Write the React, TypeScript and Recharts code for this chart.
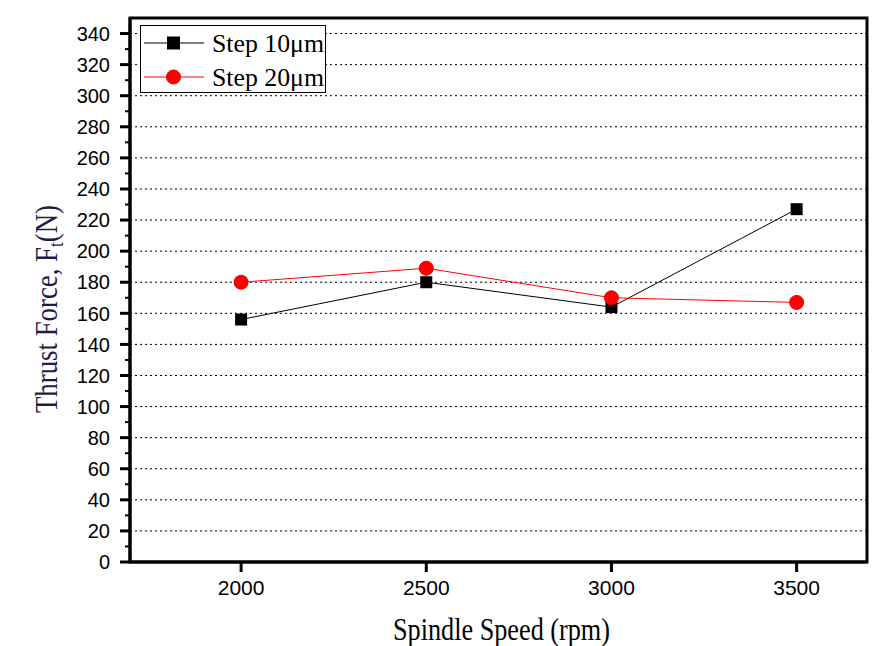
import React from "react";
import { LineChart, Line, XAxis, YAxis, CartesianGrid, Legend, ReferenceArea } from "recharts";

const speeds = [2000, 2500, 3000, 3500];
const step10 = [156, 180, 164, 227];
const step20 = [180, 189, 170, 167];
const xTicks = [2000, 2500, 3000, 3500];
const yTicks = [
  0, 10, 20, 30, 40, 50, 60, 70, 80, 90, 100, 110, 120, 130, 140, 150, 160, 170,
  180, 190, 200, 210, 220, 230, 240, 250, 260, 270, 280, 290, 300, 310, 320, 330, 340,
];
const gridValues = [20, 40, 60, 80, 100, 120, 140, 160, 180, 200, 220, 240, 260, 280, 300, 320, 340];

const RED = "#ff0000";
const BLACK = "#000";
const SANS = "'Liberation Sans', Arial, sans-serif";
const SERIF = "'Liberation Serif', 'Times New Roman', serif";

const data = speeds.map((s, i) => ({ speed: s, step10: step10[i], step20: step20[i] }));

function SquareDot(props: any) {
  const { cx, cy, index } = props;
  if (cx == null || cy == null) return <g key={`s${index}`} />;
  return <rect key={`s${index}`} x={cx - 6} y={cy - 6} width={12} height={12} fill={BLACK} />;
}

function CircleDot(props: any) {
  const { cx, cy, index } = props;
  if (cx == null || cy == null) return <g key={`c${index}`} />;
  return <circle key={`c${index}`} cx={cx} cy={cy} r={7} fill={RED} stroke="#e00000" strokeWidth={1} />;
}

function YTick(props: any) {
  const { x, y, payload } = props;
  const major = payload.value % 20 === 0;
  return (
    <g>
      <line x1={x - (major ? 10 : 5)} x2={x} y1={y} y2={y} stroke={BLACK} strokeWidth={major ? 3 : 2} />
      {major && (
        <text x={x - 20} y={y} dy="0.36em" textAnchor="end" fontFamily={SANS} fontSize={20} fill={BLACK}>
          {payload.value}
        </text>
      )}
    </g>
  );
}

function YTitle(props: any) {
  const { viewBox } = props;
  const cx = viewBox.x + 57;
  const cy = viewBox.y + viewBox.height / 2 + 19;
  return (
    <text
      x={cx}
      y={cy}
      transform={`rotate(-90, ${cx}, ${cy})`}
      textAnchor="middle"
      fontFamily={SERIF}
      fontSize={31}
      fill="#1f1a4a"
      textLength={208}
      lengthAdjust="spacingAndGlyphs"
    >
      Thrust Force, F
      <tspan fontSize={20} dy={6}>t</tspan>
      <tspan dy={-6}>(N)</tspan>
    </text>
  );
}

function XTitle(props: any) {
  const { viewBox } = props;
  const cx = viewBox.x + viewBox.width / 2 + 3;
  return (
    <text
      x={cx}
      y={640}
      textAnchor="middle"
      fontFamily={SERIF}
      fontSize={31}
      fill={BLACK}
      textLength={217}
      lengthAdjust="spacingAndGlyphs"
    >
      Spindle Speed (rpm)
    </text>
  );
}

function LegendBox() {
  const rows = [
    { name: "Step 10μm", color: BLACK, square: true },
    { name: "Step 20μm", color: RED, square: false },
  ];
  return (
    <svg width={210} height={68} style={{ display: "block", overflow: "visible" }}>
      <rect x={0.5} y={0.5} width={185} height={67} fill="#fff" stroke={BLACK} strokeWidth={1} />
      {rows.map((r, i) => {
        const y = 18 + i * 34;
        return (
          <g key={r.name}>
            <line x1={4} x2={64} y1={y} y2={y} stroke={r.color} strokeWidth={1} />
            {r.square ? (
              <rect x={27} y={y - 6.5} width={13} height={13} fill={BLACK} />
            ) : (
              <circle cx={33.5} cy={y} r={7} fill={RED} stroke="#e00000" />
            )}
            <text
              x={72}
              y={y + 9}
              fontFamily={SERIF}
              fontSize={26}
              fill={BLACK}
              textLength={112}
              lengthAdjust="spacingAndGlyphs"
            >
              {r.name}
            </text>
          </g>
        );
      })}
    </svg>
  );
}

export default function App() {
  return (
    <div style={{ position: "absolute", left: 0, top: 0, background: "#fff" }}>
      <LineChart width={885} height={646} data={data} margin={{ top: 18, right: 18, bottom: 0, left: 0 }}>
        <CartesianGrid vertical={false} stroke={BLACK} strokeDasharray="2 3" strokeWidth={1} yAxisId="grid" />
        <XAxis
          type="number"
          dataKey="speed"
          domain={[1700, 3690]}
          ticks={xTicks}
          height={84}
          allowDataOverflow
          axisLine={{ stroke: BLACK, strokeWidth: 3 }}
          tickLine={{ stroke: BLACK, strokeWidth: 3 }}
          tickSize={10}
          tickMargin={8}
          tick={{ fontFamily: SANS, fontSize: 21, fill: BLACK }}
          label={<XTitle />}
        />
        <YAxis
          type="number"
          domain={[0, 350]}
          ticks={yTicks}
          width={130}
          allowDataOverflow
          axisLine={{ stroke: BLACK, strokeWidth: 3 }}
          tickLine={false}
          tickSize={0}
          tickMargin={0}
          interval={0}
          tick={<YTick />}
          label={<YTitle />}
        />
        <YAxis yAxisId="grid" hide type="number" domain={[0, 350]} ticks={gridValues} interval={0} allowDataOverflow />
        <ReferenceArea x1={1700} x2={3690} y1={0} y2={350} fill="none" stroke={BLACK} strokeWidth={3} />
        <Line
          dataKey="step10"
          name="Step 10μm"
          stroke={BLACK}
          strokeWidth={1}
          dot={SquareDot}
          isAnimationActive={false}
        />
        <Line
          dataKey="step20"
          name="Step 20μm"
          stroke={RED}
          strokeWidth={1}
          dot={CircleDot}
          isAnimationActive={false}
        />
        <Legend
          layout="vertical"
          align="center"
          verticalAlign="middle"
          content={<LegendBox />}
          wrapperStyle={{ left: 140, top: 25, width: 210 }}
        />
      </LineChart>
    </div>
  );
}
